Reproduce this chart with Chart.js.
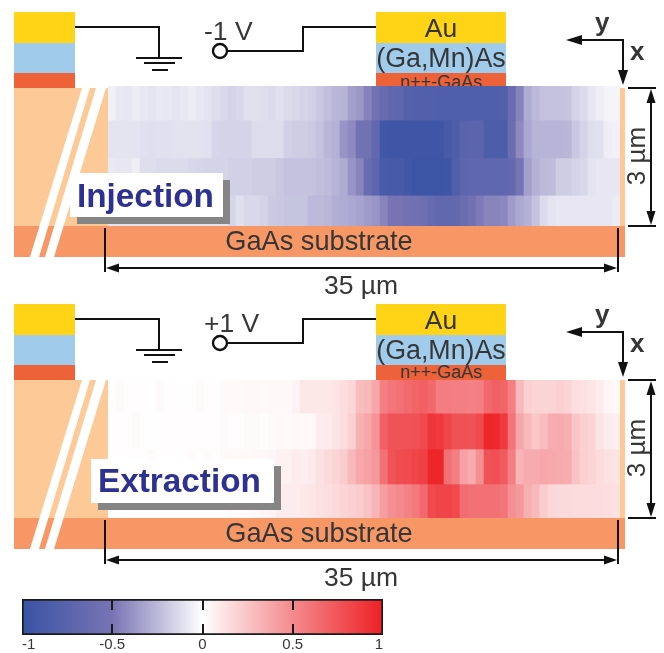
<!DOCTYPE html>
<html>
<head>
<meta charset="utf-8">
<title>Injection and extraction maps</title>
<script src="https://cdn.jsdelivr.net/npm/chart.js@4"></script>
<style>
  html, body { margin: 0; padding: 0; background: #fff; }
  body { position: relative; width: 664px; height: 653px; overflow: hidden; }
  svg, canvas { position: absolute; display: block; }
  svg { left: 0; top: 0; }
  text { font-family: "Liberation Sans", Arial, sans-serif; fill: #363636; }
  .map { filter: blur(0.6px); }
</style>
</head>
<body>
<svg id="back" width="664" height="653"></svg>
<canvas id="injection" class="map" width="512" height="140" style="left:108px;top:86px"></canvas>
<canvas id="extraction" class="map" width="512" height="138" style="left:108px;top:380px"></canvas>
<canvas id="colorbar" width="400" height="63" style="left:0;top:590px"></canvas>
<svg id="front" width="664" height="653"></svg>

<script>
//Depth of the row edges in µm
const injectionEdges = [0, 0.73, 1.54, 2.34, 3];
const extractionEdges = [0, 0.72, 1.5, 2.26, 3];

//Normalised signal along y, one list per row of the map
const injectionRow1 = [-.05,-.08,-.09,-.07,-.09,-.10,-.08,-.09,-.10,-.09,-.07,-.09,-.10,-.12,-.14,-.16,-.14,-.11,-.11,-.12,-.13,-.11,-.13,-.14,-.16,-.17,-.20,-.23,-.26,-.27,-.34,-.37,
  -.45,-.55,-.63,-.68,-.70,-.78,-.80,-.80,-.81,-.82,-.82,-.82,-.82,-.82,-.82,-.82,-.82,-.80,-.62,-.45,-.30,-.25,-.22,-.22,-.22,-.21,-.16,-.13,-.09,-.06,-.04,-.04];
const injectionRow2 = [-.10,-.10,-.10,-.10,-.11,-.12,-.11,-.11,-.105,-.105,-.105,-.105,-.11,-.15,-.16,-.16,-.16,-.16,-.125,-.125,-.125,-.125,-.17,-.18,-.18,-.19,-.22,-.26,-.28,-.38,-.42,-.55,
  -.55,-.68,-.93,-.95,-.95,-.95,-.95,-.95,-.95,-.95,-.90,-.84,-.74,-.73,-.73,-.84,-.85,-.85,-.60,-.42,-.31,-.27,-.27,-.27,-.27,-.26,-.20,-.16,-.12,-.11,-.06,-.05];
const injectionRow3 = [-.08,-.09,-.09,-.06,-.12,-.12,-.13,-.13,-.13,-.13,-.14,-.15,-.16,-.16,-.16,-.17,-.17,-.17,-.18,-.18,-.18,-.20,-.22,-.22,-.22,-.22,-.23,-.24,-.27,-.30,-.38,-.44,
  -.62,-.72,-.88,-.90,-.90,-.93,-.97,-.97,-.97,-.97,-.95,-.82,-.72,-.70,-.70,-.70,-.70,-.70,-.66,-.52,-.34,-.28,-.25,-.24,-.18,-.18,-.16,-.14,-.10,-.09,-.09,-.09];
const injectionRow4 = [-.10,-.10,-.10,-.10,-.10,-.10,-.10,-.10,-.10,-.10,-.10,-.10,-.10,-.10,-.10,-.15,-.11,-.14,-.14,-.16,-.19,-.20,-.21,-.21,-.21,-.25,-.25,-.26,-.29,-.30,-.31,-.33,
  -.36,-.38,-.44,-.50,-.50,-.55,-.56,-.58,-.64,-.68,-.68,-.68,-.60,-.56,-.48,-.44,-.44,-.43,-.36,-.31,-.28,-.22,-.13,-.10,-.09,-.09,-.09,-.09,-.09,-.09,-.09,-.07];

const extractionRow1 = [.01,.02,.01,.01,.01,.00,.02,.01,.01,.00,.01,.02,.01,.01,.02,.02,.02,.03,.03,.02,.03,.03,.03,.05,.10,.10,.10,.10,.11,.14,.17,.28,
  .30,.38,.55,.60,.62,.65,.68,.70,.66,.56,.56,.55,.55,.54,.55,.66,.70,.68,.55,.30,.20,.18,.18,.18,.20,.18,.14,.13,.11,.08,.04,.03];
const extractionRow2 = [.00,.01,.01,.02,.01,.00,.01,.01,.00,.01,.01,.01,.01,.01,.02,.01,.01,.02,.02,.01,.02,.03,.02,.03,.02,.03,.08,.09,.11,.15,.20,.33,
  .38,.46,.70,.76,.76,.76,.77,.80,.90,.88,.82,.77,.77,.76,.80,.97,.96,.88,.60,.38,.30,.24,.28,.35,.36,.34,.25,.20,.18,.12,.08,.07];
const extractionRow3 = [.00,.01,.01,.01,.01,.02,.01,.01,.01,.01,.02,.01,.02,.01,.02,.02,.02,.02,.03,.03,.04,.06,.06,.08,.07,.09,.13,.16,.18,.22,.30,.37,
  .40,.44,.62,.76,.79,.80,.83,.85,.97,.97,.62,.55,.40,.36,.48,.76,.78,.72,.55,.32,.36,.36,.38,.37,.36,.35,.26,.20,.18,.15,.13,.12];
const extractionRow4 = [.01,.01,.01,.01,.01,.01,.01,.01,.01,.01,.01,.01,.01,.01,.01,.02,.02,.02,.03,.04,.05,.08,.08,.08,.10,.11,.13,.14,.16,.18,.20,.22,
  .26,.32,.42,.48,.50,.54,.58,.66,.80,.83,.83,.80,.64,.62,.62,.62,.62,.60,.48,.44,.34,.30,.22,.17,.16,.16,.15,.15,.15,.15,.14,.13];

const columns = injectionRow1.map((v, i) => i + 1);

//Colour scale
const scaleStops = [-1, -0.5, 0, 0.5, 1];
const scaleColors = [[57, 83, 164], [120, 116, 180], [255, 255, 255], [244, 138, 142], [237, 32, 36]];
const scaleTicks = [-1, -0.5, 0, 0.5, 1];

const colorFor = function (v) {
  let i = 0;
  while (i < scaleStops.length - 2 && v > scaleStops[i + 1]) i++;
  const t = (v - scaleStops[i]) / (scaleStops[i + 1] - scaleStops[i]);
  const c = scaleColors[i].map((a, k) => Math.round(a + (scaleColors[i + 1][k] - a) * t));
  return `rgb(${c.join(",")})`;
};

const makeMap = function (id, rows, edges) {
  new Chart(document.getElementById(id), {
    type: "bar",
    data: {
      labels: columns,
      datasets: rows.map((row, r) => ({
        data: row.map(() => [edges[r], edges[r + 1]]),
        backgroundColor: row.map(colorFor),
        borderWidth: 0,
        grouped: false,
        categoryPercentage: 1,
        barPercentage: 1,
      })),
    },
    options: {
      responsive: false,
      animation: false,
      layout: { padding: 0 },
      plugins: { legend: { display: false }, tooltip: { enabled: false } },
      scales: {
        x: { display: false },
        y: { display: false, min: 0, max: 3, reverse: true },
      },
    },
  });
};

makeMap("injection", [injectionRow1, injectionRow2, injectionRow3, injectionRow4], injectionEdges);
makeMap("extraction", [extractionRow1, extractionRow2, extractionRow3, extractionRow4], extractionEdges);

//Short marks from both edges of the colour bar
const barMarks = {
  id: "barMarks",
  afterDatasetsDraw(chart) {
    const { ctx, chartArea, scales } = chart;
    ctx.save();
    ctx.strokeStyle = "#1a1a1a";
    ctx.lineWidth = 2;
    [-0.5, 0, 0.5].forEach((v) => {
      const x = Math.round(scales.x.getPixelForValue(v));
      ctx.beginPath();
      ctx.moveTo(x, chartArea.top);
      ctx.lineTo(x, chartArea.top + 11);
      ctx.moveTo(x, chartArea.bottom - 11);
      ctx.lineTo(x, chartArea.bottom);
      ctx.stroke();
    });
    ctx.restore();
  },
};

new Chart(document.getElementById("colorbar"), {
  type: "bar",
  data: {
    labels: ["scale"],
    datasets: [
      {
        data: [[scaleStops[0], scaleStops[scaleStops.length - 1]]],
        backgroundColor(c) {
          const area = c.chart.chartArea;
          if (!area) return "#fff";
          const g = c.chart.ctx.createLinearGradient(area.left, 0, area.right, 0);
          scaleStops.forEach((s, i) => {
            g.addColorStop((s + 1) / 2, `rgb(${scaleColors[i].join(",")})`);
          });
          return g;
        },
        borderColor: "#1a1a1a",
        borderWidth: 2,
        borderSkipped: false,
        categoryPercentage: 1,
        barPercentage: 1,
      },
    ],
  },
  options: {
    indexAxis: "y",
    responsive: false,
    animation: false,
    layout: { padding: { left: 22, right: 17, top: 9, bottom: 0 } },
    plugins: { legend: { display: false }, tooltip: { enabled: false } },
    scales: {
      y: { display: false },
      x: {
        type: "linear",
        min: -1,
        max: 1,
        afterBuildTicks(axis) {
          axis.ticks = scaleTicks.map((value) => ({ value }));
        },
        afterFit(axis) {
          axis.height = 18;
        },
        grid: { display: false, drawTicks: false },
        border: { display: false },
        ticks: {
          align: "inner",
          maxRotation: 0,
          autoSkip: false,
          padding: 1,
          color: "#363636",
          font: { family: "Liberation Sans", size: 15 },
          callback: (v) => String(v),
        },
      },
    },
  },
  plugins: [barMarks],
});

//Device schematic, same for both panels apart from the offset and the labels
const rect = (x, y, w, h, fill) => `<rect x="${x}" y="${y}" width="${w}" height="${h}" fill="${fill}"/>`;
const line = (pts) => `<polyline points="${pts}" fill="none" stroke="#111" stroke-width="2"/>`;
const head = (pts) => `<polygon points="${pts}" fill="#111"/>`;

const backPanel = function (dy, contactBaseline) {
  return `<g transform="translate(0 ${dy})">` +
    rect(14, 12, 61, 31, "#FFD316") + rect(14, 43, 61, 30, "#A0CBEA") + rect(14, 73, 61, 15, "#EE6239") +
    rect(14, 88, 94, 138, "#FDC997") + rect(14, 226, 611, 31, "#F89766") + rect(620, 88, 5, 138, "#FDC997") +
    `<polygon points="82,88 90,88 39,257 30,257" fill="#fff"/><polygon points="96,88 106,88 54,257 45,257" fill="#fff"/>` +
    rect(376, 12, 130, 31, "#FFD316") + rect(376, 43, 130, 30, "#A0CBEA") + rect(376, 73, 130, 15, "#EE6239") +
    `<text x="441" y="${contactBaseline}" font-size="18" text-anchor="middle">n++-GaAs</text>` +
    `</g>`;
};

const frontPanel = function (dy, volts, voltsX, tag) {
  return `<g transform="translate(0 ${dy})">` +
    line("75,27 159,27 159,58") + line("136,58 182,58") + line("144,63 175,63") + line("152,70 168,70") +
    `<circle cx="220" cy="51" r="7" fill="#fff" stroke="#111" stroke-width="2.4"/>` +
    line("227,51 303,51 303,27 376,27") +
    `<text x="${voltsX}" y="40" font-size="26.5">${volts}</text>` +
    `<text x="441" y="37" font-size="26.5" text-anchor="middle">Au</text>` +
    `<text x="441" y="67" font-size="26.8" text-anchor="middle">(Ga,Mn)As</text>` +
    `<text x="319" y="250" font-size="27.2" text-anchor="middle">GaAs substrate</text>` +
    `<text x="361" y="294" font-size="26.5" text-anchor="middle">35 µm</text>` +
    `<text transform="rotate(-90 645 156)" x="645" y="156" font-size="26" text-anchor="middle">3 µm</text>` +
    `<text x="595" y="31" font-size="26" font-weight="bold">y</text>` +
    `<text x="630" y="60" font-size="26" font-weight="bold">x</text>` +
    line("580,40 623,40 623,72") + head("566,40 582,35 582,45") + head("623,85 618,70 628,70") +
    line("105,228 105,272") + line("618,228 618,272") + line("118,268 605,268") +
    head("106,268 119,263.5 119,272.5") + head("617,268 604,263.5 604,272.5") +
    line("628,88 656,88") + line("628,226 656,226") + line("651,102 651,212") +
    head("651,89 646.5,103 655.5,103") + head("651,225 646.5,211 655.5,211") +
    rect(tag.x + 7, tag.y + 7, tag.w, tag.h, "#858585") + rect(tag.x, tag.y, tag.w, tag.h, "#fff") +
    `<text x="${tag.textX}" y="${tag.base}" font-size="${tag.size}" font-weight="bold" style="fill:#2E3192">${tag.label}</text>` +
    `</g>`;
};

document.getElementById("back").innerHTML = backPanel(0, 88) + backPanel(292, 86);
document.getElementById("front").innerHTML =
  frontPanel(0, "-1 V", 204, { x: 70, y: 173, w: 153, h: 44, textX: 77, base: 207, size: 33.3, label: "Injection" }) +
  frontPanel(292, "+1 V", 204, { x: 91, y: 167, w: 183, h: 44, textX: 98, base: 200, size: 33.3, label: "Extraction" });
</script>
</body>
</html>
